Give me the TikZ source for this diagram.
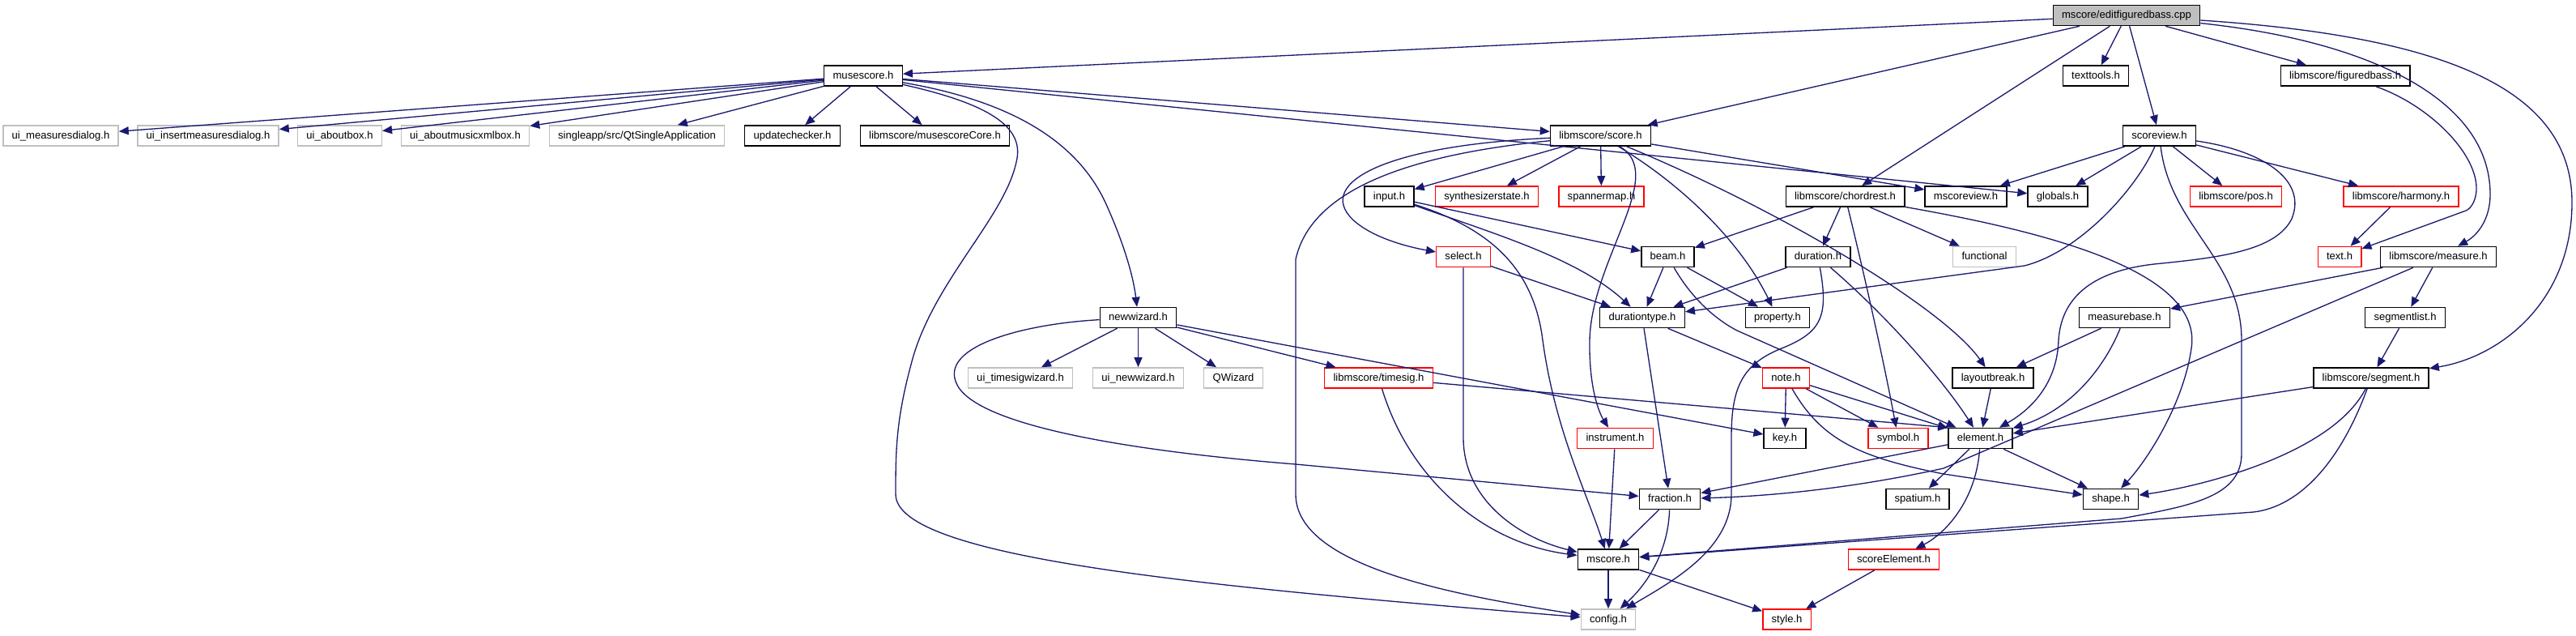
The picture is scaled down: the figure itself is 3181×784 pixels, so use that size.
\documentclass[tikz,border=0pt]{standalone}
\usepackage{fontspec}
\setmainfont{Liberation Sans}
\usetikzlibrary{arrows.meta}

\definecolor{depblue}{HTML}{191970}
\definecolor{nodegray}{HTML}{BFBFBF}

\tikzset{
  hdr/.style={draw=black, fill=white, line width=0.35mm, inner xsep=2.7mm, inner ysep=0pt,
    minimum height=6.3mm, text height=2.55mm, text depth=0.75mm,
    font=\fontsize{9.3}{11}\selectfont},
  rootbox/.style={hdr, fill=nodegray},
  graybox/.style={hdr, draw=nodegray},
  redbox/.style={hdr, draw=red},
  dep/.style={draw=depblue, line width=0.33mm, -{Triangle[length=3mm,width=2.5mm]}}
}

\begin{document}
\begin{tikzpicture}[x=0.25mm, y=-0.25mm]
  \useasboundingbox (0,0) rectangle (3181,784);

  % Source file
  \node[rootbox] (root) at (2626,19) {mscore/editfiguredbass.cpp};

  % Headers, row by row
  \node[hdr] (musescore) at (1066,93.5) {musescore.h};
  \node[hdr] (texttools) at (2588,93.5) {texttools.h};
  \node[hdr] (figuredbass) at (2896,93.5) {libmscore/figuredbass.h};

  \node[graybox] (uimeasures) at (75,167.5) {ui\_measuresdialog.h};
  \node[graybox] (uiinsert) at (257,167.5) {ui\_insertmeasuresdialog.h};
  \node[graybox] (uiabout) at (419.5,167.5) {ui\_aboutbox.h};
  \node[graybox] (uimusicxml) at (574.5,167.5) {ui\_aboutmusicxmlbox.h};
  \node[graybox] (singleapp) at (786.5,167.5) {singleapp/src/QtSingleApplication};
  \node[hdr] (updatechecker) at (978.5,167.5) {updatechecker.h};
  \node[hdr] (msccore) at (1154.5,167.5) {libmscore/musescoreCore.h};
  \node[hdr] (score) at (1976.5,167.5) {libmscore/score.h};
  \node[hdr] (scoreview) at (2666.5,167.5) {scoreview.h};

  \node[hdr] (input) at (1715.5,242.5) {input.h};
  \node[redbox] (synth) at (1836,242.5) {synthesizerstate.h};
  \node[redbox] (spannermap) at (1977.5,242.5) {spannermap.h};
  \node[hdr] (chordrest) at (2278.5,242.5) {libmscore/chordrest.h};
  \node[hdr] (mscoreview) at (2427.5,242.5) {mscoreview.h};
  \node[hdr] (globals) at (2541,242.5) {globals.h};
  \node[redbox] (pos) at (2761,242.5) {libmscore/pos.h};
  \node[redbox] (harmony) at (2965,242.5) {libmscore/harmony.h};

  \node[redbox] (select) at (1807,317) {select.h};
  \node[hdr] (beam) at (2059.5,317) {beam.h};
  \node[hdr] (duration) at (2245,317) {duration.h};
  \node[graybox] (functional) at (2450.5,317) {functional};
  \node[redbox] (text) at (2889,317) {text.h};
  \node[hdr] (measure) at (3011,317) {libmscore/measure.h};

  \node[hdr] (newwizard) at (1405.5,392) {newwizard.h};
  \node[hdr] (durationtype) at (2028,392) {durationtype.h};
  \node[hdr] (property) at (2195,392) {property.h};
  \node[hdr] (measurebase) at (2623.5,392) {measurebase.h};
  \node[hdr] (segmentlist) at (2970,392) {segmentlist.h};

  \node[graybox] (uitimesig) at (1260,466.5) {ui\_timesigwizard.h};
  \node[graybox] (uinewwizard) at (1405.5,466.5) {ui\_newwizard.h};
  \node[graybox] (qwizard) at (1523,466.5) {QWizard};
  \node[redbox] (timesig) at (1702.5,466.5) {libmscore/timesig.h};
  \node[redbox] (note) at (2205.5,466.5) {note.h};
  \node[hdr] (layoutbreak) at (2461,466.5) {layoutbreak.h};
  \node[hdr] (segment) at (2928,466.5) {libmscore/segment.h};

  \node[redbox] (instrument) at (1994.5,541) {instrument.h};
  \node[hdr] (key) at (2204,541) {key.h};
  \node[redbox] (symbol) at (2344,541) {symbol.h};
  \node[hdr] (element) at (2445.5,541) {element.h};

  \node[hdr] (fraction) at (2062,616) {fraction.h};
  \node[hdr] (spatium) at (2368,616) {spatium.h};
  \node[hdr] (shape) at (2606.5,616) {shape.h};

  \node[hdr] (mscore) at (1986,690.5) {mscore.h};
  \node[redbox] (scoreElement) at (2338.5,690.5) {scoreElement.h};

  \node[graybox] (config) at (1986,764.5) {config.h};
  \node[redbox] (style) at (2206.5,764.5) {style.h};

  % Includes of the source file
  \draw[dep] (root) -- (musescore);
  \draw[dep] (root) -- (score);
  \draw[dep] (root) -- (chordrest);
  \draw[dep] (root) -- (texttools);
  \draw[dep] (root) -- (scoreview);
  \draw[dep] (root) -- (figuredbass);
  \draw[dep] (root) .. controls (2920,50) and (3075,120) .. (3075,240)
    .. controls (3075,270) and (3060,290) .. (measure);
  \draw[dep] (root) .. controls (3020,45) and (3176,110) .. (3176,250)
    .. controls (3176,370) and (3090,440) .. (segment);

  % musescore.h
  \draw[dep] (musescore) -- (uimeasures);
  \draw[dep] (musescore) -- (uiinsert);
  \draw[dep] (musescore) -- (uiabout);
  \draw[dep] (musescore) -- (uimusicxml);
  \draw[dep] (musescore) -- (singleapp);
  \draw[dep] (musescore) -- (updatechecker);
  \draw[dep] (musescore) -- (msccore);
  \draw[dep] (musescore) -- (score);
  \draw[dep] (musescore) -- (globals);
  \draw[dep] (musescore) .. controls (1250,125) and (1330,175) .. (1365,250)
    .. controls (1390,305) and (1400,345) .. (newwizard);
  \draw[dep] (musescore) .. controls (1230,130) and (1265,160) .. (1255,200)
    .. controls (1240,270) and (1150,350) .. (1125,450)
    .. controls (1106,520) and (1106,560) .. (1106,610)
    .. controls (1106,690) and (1500,725) .. (config);

  % libmscore/score.h
  \draw[dep] (score) -- (input);
  \draw[dep] (score) -- (synth);
  \draw[dep] (score) -- (spannermap);
  \draw[dep] (score) -- (mscoreview);
  \draw[dep] (score) .. controls (1700,180) and (1620,230) .. (1675,275)
    .. controls (1700,295) and (1740,305) .. (select);
  \draw[dep] (score) .. controls (1750,190) and (1620,230) .. (1600,320) -- (1600,610)
    .. controls (1600,700) and (1800,735) .. (config);
  \draw[dep] (score) .. controls (2060,215) and (1965,320) .. (1963,420)
    .. controls (1962,480) and (1975,510) .. (instrument);
  \draw[dep] (score) .. controls (2080,230) and (2150,300) .. (property);
  \draw[dep] (score) .. controls (2200,260) and (2400,380) .. (layoutbreak);

  % input.h and select.h
  \draw[dep] (input) -- (beam);
  \draw[dep] (input) .. controls (1850,290) and (1950,320) .. (durationtype);
  \draw[dep] (input) .. controls (1850,285) and (1895,340) .. (1905,420)
    .. controls (1920,530) and (1960,610) .. (mscore);
  \draw[dep] (select) -- (durationtype);
  \draw[dep] (select) -- (1807,540) .. controls (1807,620) and (1880,665) .. (mscore);

  % chordrest.h, beam.h, duration.h
  \draw[dep] (chordrest) -- (beam);
  \draw[dep] (chordrest) -- (duration);
  \draw[dep] (chordrest) .. controls (2300,330) and (2325,440) .. (symbol);
  \draw[dep] (chordrest) -- (functional);
  \draw[dep] (chordrest) .. controls (2550,290) and (2720,340) .. (2706,430)
    .. controls (2696,500) and (2650,570) .. (shape);
  \draw[dep] (beam) -- (durationtype);
  \draw[dep] (beam) -- (property);
  \draw[dep] (beam) .. controls (2090,370) and (2120,395) .. (2145,408) -- (element);
  \draw[dep] (duration) -- (durationtype);
  \draw[dep] (duration) .. controls (2330,390) and (2400,470) .. (element);
  \draw[dep] (duration) .. controls (2258,390) and (2250,410) .. (2200,430)
    .. controls (2150,450) and (2138,480) .. (2138,540) -- (2138,610)
    .. controls (2138,680) and (2060,720) .. (config);
  \draw[dep] (durationtype) -- (note);
  \draw[dep] (durationtype) -- (fraction);

  % scoreview.h
  \draw[dep] (scoreview) -- (mscoreview);
  \draw[dep] (scoreview) -- (globals);
  \draw[dep] (scoreview) -- (pos);
  \draw[dep] (scoreview) -- (harmony);
  \draw[dep] (scoreview) .. controls (2640,230) and (2570,310) .. (2500,328) -- (durationtype);
  \draw[dep] (scoreview) .. controls (2680,280) and (2768,320) .. (2768,420) -- (2768,560)
    .. controls (2768,615) and (2700,625) .. (2620,640) -- (mscore);
  \draw[dep] (scoreview) .. controls (2790,185) and (2850,220) .. (2830,270)
    .. controls (2810,310) and (2740,318) .. (2660,326)
    .. controls (2580,335) and (2545,370) .. (2542,420)
    .. controls (2540,480) and (2500,510) .. (element);

  % figured bass, harmony, measure
  \draw[dep] (figuredbass) .. controls (3000,130) and (3060,190) .. (3058,235)
    .. controls (3057,250) and (3050,258) .. (3045,260) -- (text);
  \draw[dep] (harmony) -- (text);
  \draw[dep] (measure) -- (measurebase);
  \draw[dep] (measure) -- (segmentlist);
  \draw[dep] (measure) -- (2400,578) .. controls (2300,600) and (2200,612) .. (fraction);
  \draw[dep] (measurebase) -- (layoutbreak);
  \draw[dep] (measurebase) .. controls (2600,450) and (2560,505) .. (element);
  \draw[dep] (segmentlist) -- (segment);
  \draw[dep] (segment) -- (element);
  \draw[dep] (segment) .. controls (2880,560) and (2720,600) .. (shape);
  \draw[dep] (segment) .. controls (2890,570) and (2840,625) .. (2783,632) -- (mscore);

  % newwizard.h
  \draw[dep] (newwizard) -- (uitimesig);
  \draw[dep] (newwizard) -- (uinewwizard);
  \draw[dep] (newwizard) -- (qwizard);
  \draw[dep] (newwizard) -- (timesig);
  \draw[dep] (newwizard) -- (key);
  \draw[dep] (newwizard) .. controls (1260,400) and (1150,430) .. (1185,480)
    .. controls (1230,540) and (1500,565) .. (1600,573) -- (fraction);

  % lower headers
  \draw[dep] (timesig) .. controls (1740,590) and (1830,670) .. (mscore);
  \draw[dep] (timesig) -- (element.north west);
  \draw[dep] (note) -- (key);
  \draw[dep] (note) -- (symbol);
  \draw[dep] (note) -- (element);
  \draw[dep] (note) .. controls (2250,545) and (2300,565) .. (2400,585) -- (shape);
  \draw[dep] (layoutbreak) -- (element);
  \draw[dep] (instrument) -- (mscore);
  \draw[dep] (element) -- (fraction);
  \draw[dep] (element) -- (spatium);
  \draw[dep] (element) -- (shape);
  \draw[dep] (element) .. controls (2440,620) and (2400,660) .. (scoreElement);
  \draw[dep] (fraction) -- (mscore);
  \draw[dep] (fraction) .. controls (2060,680) and (2035,720) .. (config);
  \draw[dep] (mscore) -- (config);
  \draw[dep] (mscore) -- (style);
  \draw[dep] (scoreElement) -- (style);
\end{tikzpicture}
\end{document}
